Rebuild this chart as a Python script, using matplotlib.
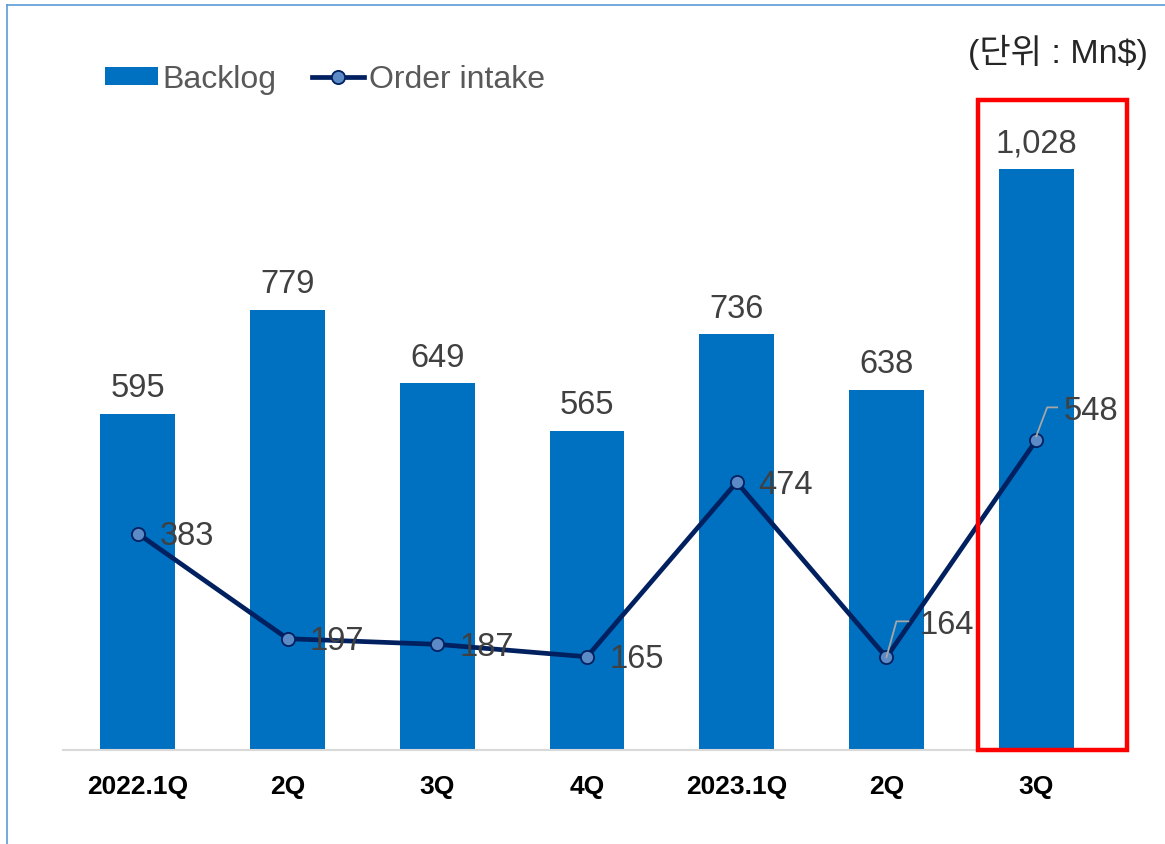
import matplotlib
matplotlib.use("Agg")
import matplotlib.pyplot as plt
from matplotlib.patches import Rectangle
from matplotlib.lines import Line2D
from matplotlib.patches import Patch

plt.rcParams['font.family'] = ['Liberation Sans', 'Noto Sans CJK KR', 'DejaVu Sans']

categories = ["2022.1Q", "2Q", "3Q", "4Q", "2023.1Q", "2Q", "3Q"]
backlog = [595, 779, 649, 565, 736, 638, 1028]
order_intake = [383, 197, 187, 165, 474, 164, 548]
backlog_labels = ["595", "779", "649", "565", "736", "638", "1,028"]
unit_text = "(단위 : Mn$)"

W, H = 1165, 845
fig = plt.figure(figsize=(W / 100, H / 100), dpi=100)

# axes in pixel geometry
ax_left, ax_right, ax_bottom, ax_top = 63, 1111, 751, 90
ax = fig.add_axes([ax_left / W, 1 - ax_bottom / H, (ax_right - ax_left) / W, (ax_bottom - ax_top) / H])

x = list(range(len(categories)))
ax.bar(x, backlog, width=0.5, color="#0070C0", zorder=2)
ax.plot(x, order_intake, color="#002060", lw=3.4, marker="o", markersize=9.5,
        markerfacecolor="#5B8AC6", markeredgecolor="#002060", markeredgewidth=1.3, zorder=3)

ax.set_xlim(-0.5, len(categories) - 0.5)
ax.set_ylim(0, (ax_bottom - ax_top) / 0.565)

for s in ["top", "right", "left"]:
    ax.spines[s].set_visible(False)
ax.spines["bottom"].set_color("#D9D9D9")
ax.spines["bottom"].set_linewidth(1.5)
ax.set_yticks([])
ax.set_xticks(x)
ax.set_xticklabels(categories, fontsize=19, fontweight="bold", color="black")
ax.tick_params(axis="x", length=0, pad=17)

LBL = 23.5
# bar value labels
for xi, v, lab in zip(x, backlog, backlog_labels):
    ax.annotate(lab, (xi, v), xytext=(0, 26), textcoords="offset pixels",
                ha="center", va="center", fontsize=LBL, color="#404040", zorder=5)

# line value labels
for i, (xi, v) in enumerate(zip(x, order_intake)):
    if i == 5:
        ax.annotate(str(v), (xi, v), xytext=(33, 33), textcoords="offset pixels",
                    ha="left", va="center", fontsize=LBL, color="#404040", zorder=5)
        ax.plot([xi, xi + 10 / 149.7, xi + 22 / 149.7],
                [v, v + 36 / 0.565, v + 36 / 0.565], color="#A6A6A6", lw=1.3, zorder=4)
    elif i == 6:
        ax.annotate(str(v), (xi, v), xytext=(27, 30), textcoords="offset pixels",
                    ha="left", va="center", fontsize=LBL, color="#404040", zorder=5)
        ax.plot([xi, xi + 11 / 149.7, xi + 21 / 149.7],
                [v + 4 / 0.565, v + 33 / 0.565, v + 33 / 0.565], color="#A6A6A6", lw=1.3, zorder=4)
    else:
        ax.annotate(str(v), (xi, v), xytext=(22, -2), textcoords="offset pixels",
                    ha="left", va="center", fontsize=LBL, color="#404040", zorder=5)

# red highlight box
px = 1 / 149.7
py = 1 / 0.565
ax.add_patch(Rectangle((6 - 58 * px, 0), 149 * px, 650 * py, fill=False,
                       edgecolor="#FF0000", lw=3.2, clip_on=False, zorder=6))

# legend
handles = [Patch(facecolor="#0070C0", edgecolor="none"),
           Line2D([0], [0], color="#002060", lw=3.4, marker="o", markersize=9.5,
                  markerfacecolor="#5B8AC6", markeredgecolor="#002060", markeredgewidth=1.3)]
leg = fig.legend(handles, ["Backlog", "Order intake"], loc="center left",
                 bbox_to_anchor=(105 / W, 1 - 80 / H), ncol=2, frameon=False,
                 borderaxespad=0, borderpad=0,
                 fontsize=23, labelcolor="#595959", handlelength=1.65, handletextpad=0.15,
                 columnspacing=1.1, handleheight=0.5)

fig.text(1148 / W, 1 - 52 / H, unit_text, ha="right", va="center", fontsize=24.5,
         color="#262626", family=["Liberation Sans", "Noto Sans CJK KR"])

# outer frame (light blue at top and left)
fig.add_artist(Line2D([7 / W, 1], [1 - 6 / H, 1 - 6 / H], color="#5B9BD5", lw=1.2))
fig.add_artist(Line2D([7 / W, 7 / W], [0, 1 - 6 / H], color="#5B9BD5", lw=1.2))

fig.savefig("out.png", dpi=100, facecolor="white")
